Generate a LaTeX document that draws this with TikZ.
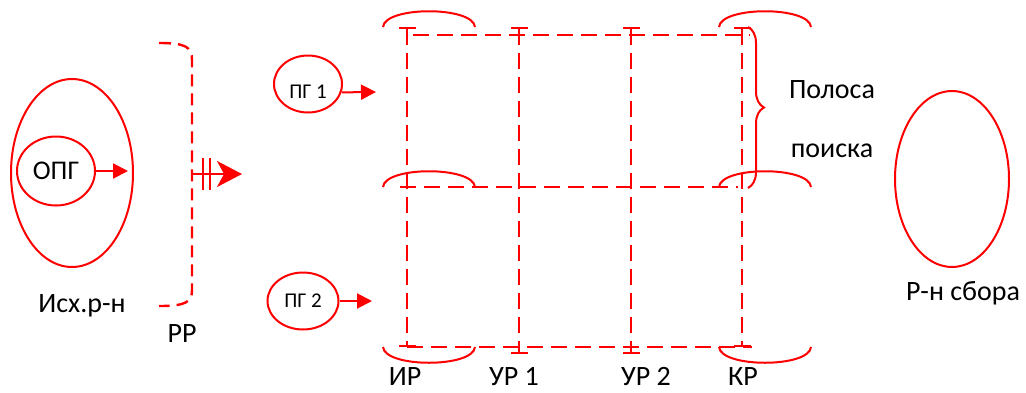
\documentclass[tikz,border=0pt]{standalone}
\usepackage{fontspec}
\setmainfont{Carlito}
\usetikzlibrary{arrows.meta,shapes.geometric,decorations.pathreplacing}
\definecolor{SignalRed}{RGB}{255,0,0}

\begin{document}
\begin{tikzpicture}[x=1pt,y=-1pt,
  zone/.style={ellipse,draw=SignalRed,line width=2pt,inner sep=0pt},
  rline/.style={SignalRed,line width=2pt},
  dline/.style={SignalRed,line width=2.4pt,dash pattern=on 16pt off 8pt},
  lbl/.style={anchor=base,inner sep=0pt,font=\fontsize{28}{32}\selectfont},
  tip/.style={-{Triangle[length=15pt,width=15pt]}}]
  \useasboundingbox (0,0) rectangle (1026,392);
  % исходный район
  \node[zone,minimum width=122pt,minimum height=188pt] (src) at (72,173) {};
  \node[zone,minimum width=78pt,minimum height=69pt,font=\fontsize{27}{30}\selectfont] (opg) at (56,171) {ОПГ};
  \coordinate (opgend) at (128,171);
  \draw[rline,tip] (opg) -- (opgend);
  \node[lbl] (srclbl) at (82,312) {Исх.р-н};
  % рубеж
  \draw[dline,dash pattern=on 12pt off 7pt] (159,43) .. controls (186,43) and (192,47) .. (192,60)
    -- (192,290) .. controls (192,302) and (186,306) .. (159,306);
  \coordinate (rr) at (192,174);
  \coordinate (rrend) at (242,174);
  \draw[rline,-{Stealth[length=25pt,width=26pt,inset=7pt]}] (rr) -- (rrend);
  \foreach \x in {203,210} \draw[rline,line width=2.6pt] (\x,158) -- (\x,190);
  \node[lbl] (rrlbl) at (182,342) {РР};
  % поисковые группы
  \node[zone,minimum width=68pt,minimum height=57pt,text height=28pt,text depth=0pt,
    font=\fontsize{21}{24}\selectfont] (pg1) at (308,84) {ПГ 1};
  \coordinate (pg1end) at (376,92);
  \draw[rline,tip] (pg1.-14) -- (pg1end);
  \node[zone,minimum width=71pt,minimum height=57pt,font=\fontsize{21}{24}\selectfont] (pg2) at (303,301) {ПГ 2};
  \coordinate (pg2end) at (372,301);
  \draw[rline,tip] (pg2) -- (pg2end);
  % сетка
  \foreach \x/\yb in {407/347,519/354,631/354,742/347}
    \draw[dline,{Bar[width=17pt]}-{Bar[width=17pt]}] (\x,27) -- (\x,\yb);
  \draw[dline] (413,35) -- (750,35);
  \draw[dline] (400,187) -- (738,187);
  \draw[dline] (407,347) -- (752,347);
  \foreach \cx/\cy/\s in {429/27/-1,765/27/-1,429/187/-1,765/187/-1,429/347/1,765/347/1}
    \draw[rline] ({\cx-46},\cy) .. controls ({\cx-44},{\cy+21*\s}) and ({\cx+44},{\cy+21*\s}) .. ({\cx+46},\cy);
  \foreach \x/\t in {405/ИР,514/УР 1,646/УР 2,743/КР}
    \node[lbl] (line\x) at (\x,385) {\t};
  % полоса поиска
  \draw[rline,decorate,decoration={brace,amplitude=16pt}] (748,27) -- (748,188);
  \node[lbl] (band1) at (832,98) {Полоса};
  \node[lbl] (band2) at (832,157) {поиска};
  % район сбора
  \node[zone,minimum width=114pt,minimum height=176pt] (dst) at (952,179) {};
  \node[lbl] (dstlbl) at (963,300) {Р-н сбора};
\end{tikzpicture}
\end{document}
